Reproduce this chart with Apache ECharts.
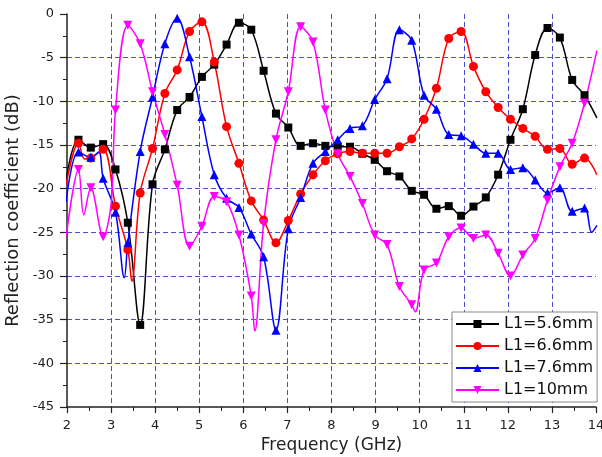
<!DOCTYPE html>
<html>
<head>
<meta charset="utf-8">
<script src="https://cdn.jsdelivr.net/npm/echarts@6/dist/echarts.min.js"></script>
<style>
  html, body { margin: 0; padding: 0; background: #fff; }
  #chart { width: 602px; height: 457px; }
</style>
</head>
<body>
<div id="chart"></div>
<script>
// marker positions (GHz), shared by all four curves
const freqGHz = [1.98, 2.26, 2.54, 2.82, 3.10, 3.38, 3.66, 3.94, 4.22, 4.50, 4.78,
  5.06, 5.34, 5.62, 5.90, 6.18, 6.46, 6.74, 7.02, 7.30, 7.58, 7.86, 8.14, 8.42,
  8.70, 8.98, 9.26, 9.54, 9.82, 10.10, 10.38, 10.66, 10.94, 11.22, 11.50, 11.78,
  12.06, 12.34, 12.62, 12.90, 13.18, 13.46, 13.74, 14.02];

// reflection coefficient (dB) at each marker
const l56 = [-19.0, -14.4, -15.3, -14.9, -17.8, -23.9, -35.6, -19.5, -15.5, -11.0, -9.5,
  -7.2, -5.8, -3.5, -1.0, -1.8, -6.5, -11.4, -13.0, -15.1, -14.8, -15.1, -15.2, -15.2,
  -16.0, -16.7, -18.0, -18.6, -20.25, -20.7, -22.3, -22.0, -23.1, -22.05, -21.0, -18.4,
  -14.4, -10.9, -4.7, -1.6, -2.7, -7.55, -9.3, -11.9];
const l66 = [-19.5, -14.8, -16.5, -15.5, -22.0, -27.0, -20.5, -15.4, -9.1, -6.4, -2.0,
  -0.9, -5.5, -12.9, -17.1, -21.4, -23.6, -26.2, -23.65, -20.6, -18.4, -16.8, -16.0, -15.75,
  -15.95, -15.95, -15.95, -15.2, -14.3, -12.05, -8.5, -2.8, -2.0, -6.0, -8.9, -10.7,
  -12.05, -13.1, -14.0, -15.5, -15.4, -17.2, -16.5, -18.4];
const l76 = [-21.5, -15.8, -16.4, -18.8, -22.7, -26.2, -15.75, -9.5, -3.4, -0.5, -4.9,
  -11.75, -18.4, -21.1, -22.15, -25.2, -27.8, -36.2, -24.6, -21.0, -17.1, -15.75, -14.4, -13.1,
  -12.8, -9.8, -7.4, -1.8, -3.0, -9.3, -10.9, -13.8, -13.95, -14.9, -15.95, -15.95,
  -17.8, -17.6, -19.0, -20.5, -19.9, -22.6, -22.2, -24.2];
const l10 = [-25.5, -17.8, -19.9, -25.5, -11.0, -1.3, -3.4, -8.9, -13.8, -19.6, -26.6,
  -24.3, -20.9, -21.5, -25.3, -32.3, -24.0, -14.4, -8.9, -1.45, -3.2, -11.0, -16.0, -18.6,
  -21.7, -25.3, -26.4, -31.2, -33.3, -29.3, -28.5, -25.5, -24.5, -25.7, -25.3, -27.4,
  -30.0, -27.6, -25.7, -21.3, -17.5, -14.8, -10.2, -4.2];

// sharp bends between markers (drawn on the curve, no marker)
const l56Bends = [];
const l66Bends = [[2.40, -16.6], [3.47, -30.6]];
const l76Bends = [[2.72, -15.8], [3.30, -30.2], [13.90, -25.0]];
const l10Bends = [[2.38, -23.0], [3.00, -21.8], [6.26, -36.3], [9.90, -34.1]];

const seriesNames = ['L1=5.6mm', 'L1=6.6mm', 'L1=7.6mm', 'L1=10mm'];
const seriesColors = ['#000000', '#ff0000', '#0000ff', '#ff00ff'];

function buildData(vals, bends) {
  const pts = freqGHz.map((f, i) => ({ value: [f, vals[i]] }));
  bends.forEach(b => pts.push({ value: b, symbol: 'none' }));
  pts.sort((a, b) => a.value[0] - b.value[0]);
  return pts;
}

function makeSeries(idx, vals, bends, symbol, size) {
  return {
    name: seriesNames[idx],
    type: 'line',
    smooth: 0.35,
    data: buildData(vals, bends),
    symbol: symbol,
    symbolSize: size,
    showAllSymbol: true,
    color: seriesColors[idx],
    lineStyle: { width: 1.5, color: seriesColors[idx] },
    itemStyle: { color: seriesColors[idx] },
    emphasis: { disabled: true },
  };
}

const font = 'DejaVu Sans';
const gridDash = { color: '#4d4dd6', type: [5, 3], width: 1 };
const chart = echarts.init(document.getElementById('chart'), null, { renderer: 'canvas' });

chart.setOption({
  animation: false,
  backgroundColor: '#fff',
  grid: { left: 67, right: 6, top: 14, bottom: 50, outerBoundsMode: 'none' },
  xAxis: {
    type: 'value',
    min: 2,
    max: 14,
    interval: 1,
    name: 'Frequency (GHz)',
    nameLocation: 'middle',
    nameGap: 21,
    nameTextStyle: { fontFamily: font, fontSize: 17, color: '#222' },
    axisLine: { onZero: false, lineStyle: { color: '#222', width: 1.5 } },
    axisTick: { length: 6, lineStyle: { color: '#222', width: 1.2 } },
    minorTick: { show: true, splitNumber: 2, length: 4, lineStyle: { color: '#222' } },
    axisLabel: { fontFamily: font, fontSize: 13, color: '#222', margin: 12 },
    splitLine: { show: true, showMinLine: false, showMaxLine: false, lineStyle: gridDash },
  },
  yAxis: {
    type: 'value',
    min: -45,
    max: 0,
    interval: 5,
    name: 'Reflection coefficient (dB)',
    nameLocation: 'middle',
    nameGap: 38,
    nameTextStyle: { fontFamily: font, fontSize: 18, color: '#222' },
    axisLine: { show: true, onZero: false, lineStyle: { color: '#222', width: 1.5 } },
    axisTick: { show: true, length: 7, lineStyle: { color: '#222', width: 1.2 } },
    minorTick: { show: true, splitNumber: 2, length: 4, lineStyle: { color: '#222' } },
    axisLabel: { fontFamily: font, fontSize: 13, color: '#222', margin: 13 },
    splitLine: { show: true, showMinLine: false, showMaxLine: false, lineStyle: gridDash },
  },
  legend: {
    orient: 'vertical',
    left: 452,
    top: 312,
    itemWidth: 43,
    itemHeight: 10,
    itemGap: 6,
    padding: [4, 4, 4, 3],
    backgroundColor: '#fff',
    borderColor: '#888',
    borderWidth: 1,
    borderRadius: 0,
    textStyle: { fontFamily: font, fontSize: 16, color: '#111' },
    data: seriesNames,
  },
  series: [
    makeSeries(0, l56, l56Bends, 'rect', 8),
    makeSeries(1, l66, l66Bends, 'circle', 9),
    makeSeries(2, l76, l76Bends, 'triangle', 9),
    makeSeries(3, l10, l10Bends, 'path://M0,0 L10,0 L5,9 Z', 9),
  ],
});
</script>
</body>
</html>
